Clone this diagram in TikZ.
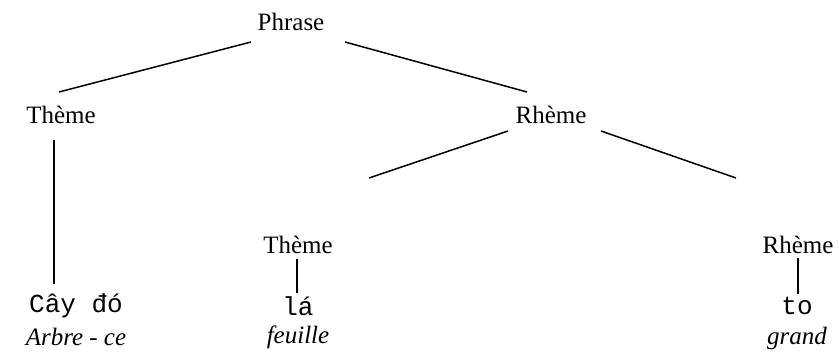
\documentclass[tikz,border=0pt]{standalone}
\usepackage{fontspec}
\setmainfont{Liberation Serif}
\newfontfamily\vnmono{Liberation Mono}
\begin{document}
\begin{tikzpicture}[x=1pt,y=-1pt,
  lbl/.style={inner sep=0pt,font=\fontsize{25}{29}\selectfont},
  word/.style={inner sep=0pt,font=\fontsize{26}{29}\selectfont\vnmono},
  gloss/.style={inner sep=0pt,font=\fontsize{25}{29}\selectfont\itshape},
  edge/.style={line width=1.5pt}]
\useasboundingbox (0,0) rectangle (839,353);
\node[lbl] (phrase) at (291,22) {Phrase};
\node[lbl] (theme1) at (61,115) {Thème};
\node[lbl] (rheme1) at (551,115) {Rhème};
\node[lbl] (theme2) at (298,245) {Thème};
\node[lbl] (rheme2) at (798,245) {Rhème};
\node[word] (w1) at (76,306) {Cây đó};
\node[gloss] (g1) at (76,337) {Arbre - ce};
\node[word] (w2) at (298,306) {lá};
\node[gloss] (g2) at (298,337) {feuille};
\node[word] (w3) at (797,306) {to};
\node[gloss] (g3) at (797,338) {grand};
\coordinate (a1) at (251,42); \coordinate (a2) at (59,92);
\coordinate (b1) at (345,42); \coordinate (b2) at (527,92);
\coordinate (c1) at (54,140); \coordinate (c2) at (54,284);
\coordinate (d1) at (508,131); \coordinate (d2) at (369,178);
\coordinate (e1) at (601,131); \coordinate (e2) at (736,178);
\coordinate (f1) at (297,259); \coordinate (f2) at (297,293);
\coordinate (h1) at (798,258); \coordinate (h2) at (798,294);
\draw[edge] (a1) -- (a2);
\draw[edge] (b1) -- (b2);
\draw[edge] (c1) -- (c2);
\draw[edge] (d1) -- (d2);
\draw[edge] (e1) -- (e2);
\draw[edge] (f1) -- (f2);
\draw[edge] (h1) -- (h2);
\end{tikzpicture}
\end{document}
